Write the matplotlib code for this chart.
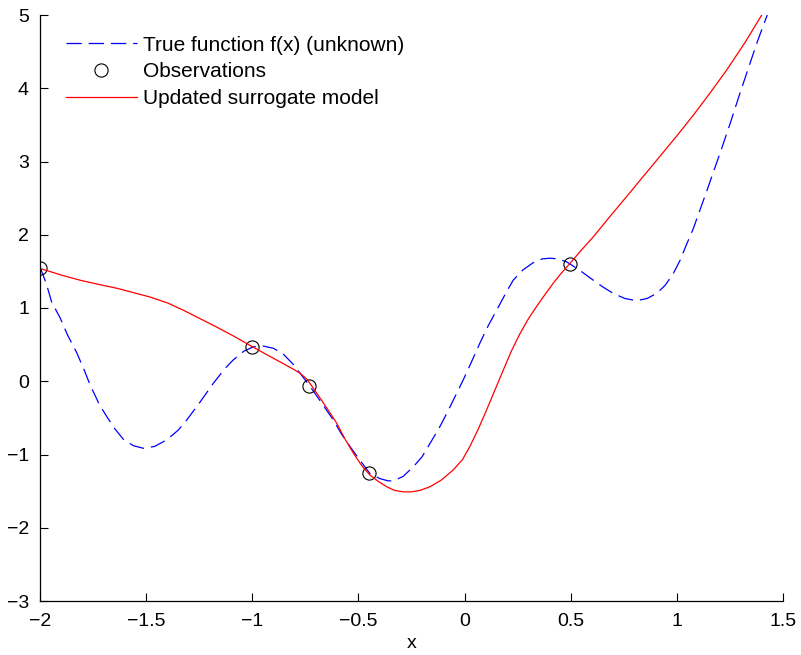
import matplotlib
matplotlib.use("Agg")
import matplotlib.pyplot as plt

plt.rcParams['font.family'] = ['Liberation Sans', 'DejaVu Sans']
plt.rcParams['lines.scale_dashes'] = False

# True function f(x)
true_x = [-2.0, -1.97, -1.945, -1.906, -1.87, -1.827, -1.79, -1.764, -1.72, -1.686,
          -1.65, -1.608, -1.56, -1.513, -1.46, -1.403, -1.35, -1.309, -1.25, -1.184,
          -1.13, -1.09, -1.04, -0.995, -0.948, -0.90, -0.854, -0.81, -0.775, -0.728,
          -0.67, -0.618, -0.58, -0.54, -0.49, -0.446, -0.398, -0.36, -0.336, -0.29,
          -0.242, -0.20, -0.163, -0.12, -0.084, -0.045, -0.006, 0.035, 0.072, 0.11,
          0.151, 0.19, 0.229, 0.275, 0.324, 0.365, 0.402, 0.44, 0.481, 0.54,
          0.606, 0.65, 0.70, 0.755, 0.81, 0.86, 0.905, 0.945, 0.983, 1.015,
          1.046, 1.077, 1.109, 1.14, 1.17, 1.203, 1.25, 1.297, 1.34, 1.376,
          1.40, 1.426]
true_y = [1.56, 1.33, 1.08, 0.87, 0.63, 0.39, 0.14, -0.05, -0.32, -0.48,
          -0.64, -0.79, -0.88, -0.915, -0.89, -0.80, -0.67, -0.53, -0.30, -0.03,
          0.17, 0.29, 0.41, 0.47, 0.48, 0.45, 0.37, 0.24, 0.11, -0.07,
          -0.31, -0.53, -0.72, -0.89, -1.09, -1.26, -1.33, -1.36, -1.36, -1.30,
          -1.17, -1.03, -0.85, -0.64, -0.44, -0.21, 0.02, 0.28, 0.52, 0.75,
          0.97, 1.18, 1.38, 1.52, 1.62, 1.67, 1.68, 1.67, 1.63, 1.52,
          1.38, 1.29, 1.20, 1.13, 1.10, 1.13, 1.20, 1.31, 1.47, 1.65,
          1.87, 2.08, 2.34, 2.59, 2.84, 3.11, 3.51, 3.93, 4.30, 4.61,
          4.80, 5.0]

# Observations
obs_x = [-2.0, -1.0, -0.733, -0.45, 0.497]
obs_y = [1.55, 0.47, -0.06, -1.25, 1.60]

# Updated surrogate model
sur_x = [-2.0, -1.9, -1.812, -1.72, -1.639, -1.56, -1.482, -1.40, -1.325, -1.25,
         -1.168, -1.09, -1.011, -0.93, -0.854, -0.81, -0.775, -0.74, -0.697, -0.65,
         -0.603, -0.565, -0.524, -0.485, -0.446, -0.405, -0.367, -0.33, -0.289, -0.25,
         -0.21, -0.163, -0.11, -0.053, -0.01, 0.025, 0.065, 0.104, 0.143, 0.182,
         0.22, 0.261, 0.30, 0.339, 0.378, 0.418, 0.457, 0.497, 0.55, 0.606,
         0.685, 0.763, 0.84, 0.92, 1.0, 1.077, 1.155, 1.235, 1.32, 1.40]
sur_y = [1.54, 1.45, 1.38, 1.32, 1.27, 1.21, 1.15, 1.07, 0.97, 0.86,
         0.74, 0.62, 0.49, 0.36, 0.24, 0.17, 0.11, 0.02, -0.16, -0.36,
         -0.57, -0.78, -0.98, -1.15, -1.28, -1.37, -1.44, -1.49, -1.51, -1.51,
         -1.49, -1.44, -1.35, -1.21, -1.07, -0.89, -0.65, -0.39, -0.12, 0.15,
         0.41, 0.65, 0.85, 1.02, 1.18, 1.34, 1.48, 1.61, 1.79, 1.97,
         2.25, 2.52, 2.79, 3.07, 3.35, 3.63, 3.93, 4.25, 4.62, 5.0]

x_ticks = [-2, -1.5, -1, -0.5, 0, 0.5, 1, 1.5]
x_tick_labels = ['\u22122', '\u22121.5', '\u22121', '\u22120.5', '0', '0.5', '1', '1.5']
y_ticks = [-3, -2, -1, 0, 1, 2, 3, 4, 5]
y_tick_labels = ['\u22123', '\u22122', '\u22121', '0', '1', '2', '3', '4', '5']

fig = plt.figure(figsize=(8.01, 6.55), dpi=100)
ax = fig.add_axes([40/801, 1-601/655, 743/801, 586/655])

ax.plot(true_x, true_y, color='#0000ff', lw=0.9, dashes=(11, 5),
        label='True function f(x) (unknown)')
ax.plot(obs_x, obs_y, linestyle='none', marker='o', ms=9.5, mfc='none',
        mec='black', mew=0.8, label='Observations')
ax.plot(sur_x, sur_y, color='#ff0000', lw=0.9, label='Updated surrogate model')

ax.set_xlim(-2, 1.5)
ax.set_ylim(-3, 5)
ax.set_xticks(x_ticks)
ax.set_xticklabels(x_tick_labels)
ax.set_yticks(y_ticks)
ax.set_yticklabels(y_tick_labels)
ax.spines['top'].set_visible(False)
ax.spines['right'].set_visible(False)
ax.spines['left'].set_linewidth(0.9)
ax.spines['bottom'].set_linewidth(0.9)
ax.tick_params(direction='in', length=6, width=0.8, labelsize=14)
ax.tick_params(axis='y', pad=8)
ax.tick_params(axis='x', pad=8.5)
ax.set_xlabel('x', fontsize=14, labelpad=3.5)

leg = ax.legend(loc='upper left', frameon=False, fontsize=15,
                handlelength=3.4, handletextpad=0.3, labelspacing=0.37,
                borderpad=0, borderaxespad=0, bbox_to_anchor=(0.035, 0.965))

fig.savefig('out.png', dpi=100)
